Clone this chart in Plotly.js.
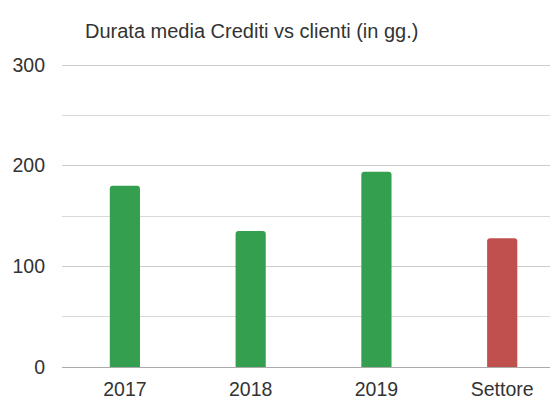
<!DOCTYPE html>
<html>
<head>
<meta charset="utf-8">
<script src="https://cdn.plot.ly/plotly-3.0.1.min.js"></script>
<style>html,body{margin:0;padding:0;background:#fff;}#chart{width:550px;height:400px;}</style>
</head>
<body>
<div id="chart"></div>
<script>
const categories = ["2017", "2018", "2019", "Settore"];
const values = [180, 135, 194, 128];
const barColors = ["#34a04f", "#34a04f", "#34a04f", "#c0504d"];
const titleText = "Durata media Crediti vs clienti (in gg.)";
const yTickValues = [0, 100, 200, 300];

const trace = {
  type: "bar",
  x: categories,
  y: values,
  width: 0.24,
  marker: { color: barColors, cornerradius: 3 },
  hoverinfo: "x+y"
};

const layout = {
  width: 550,
  height: 400,
  margin: { l: 62, r: 0, t: 64, b: 33 },
  paper_bgcolor: "#ffffff",
  plot_bgcolor: "#ffffff",
  showlegend: false,
  font: { family: "Liberation Sans, Arial, sans-serif", color: "#333333", size: 19.5 },
  title: {
    text: titleText,
    font: { family: "Liberation Sans, Arial, sans-serif", size: 20, color: "#333333" },
    x: 85 / 550, xanchor: "left", xref: "container",
    y: 1 - 31 / 400, yanchor: "middle", yref: "container"
  },
  xaxis: {
    type: "category",
    range: [-0.5, 3.38],
    showgrid: false,
    showline: false,
    zeroline: false,
    ticks: "",
    ticklabelstandoff: 8,
    tickfont: { size: 19.5, color: "#333333" },
    fixedrange: true
  },
  yaxis: {
    range: [0, 301],
    tickvals: yTickValues,
    ticks: "",
    showgrid: true,
    gridcolor: "#cccccc",
    gridwidth: 1,
    zeroline: true,
    zerolinecolor: "#aaaaaa",
    zerolinewidth: 1,
    showline: false,
    ticklabelstandoff: 16,
    tickfont: { size: 19.5, color: "#333333" },
    minor: { dtick: 50, showgrid: true, gridcolor: "#d9d9d9", gridwidth: 1, ticks: "" },
    fixedrange: true
  },
  bargap: 0.76
};

Plotly.newPlot("chart", [trace], layout, { displayModeBar: false, staticPlot: true });
</script>
</body>
</html>
